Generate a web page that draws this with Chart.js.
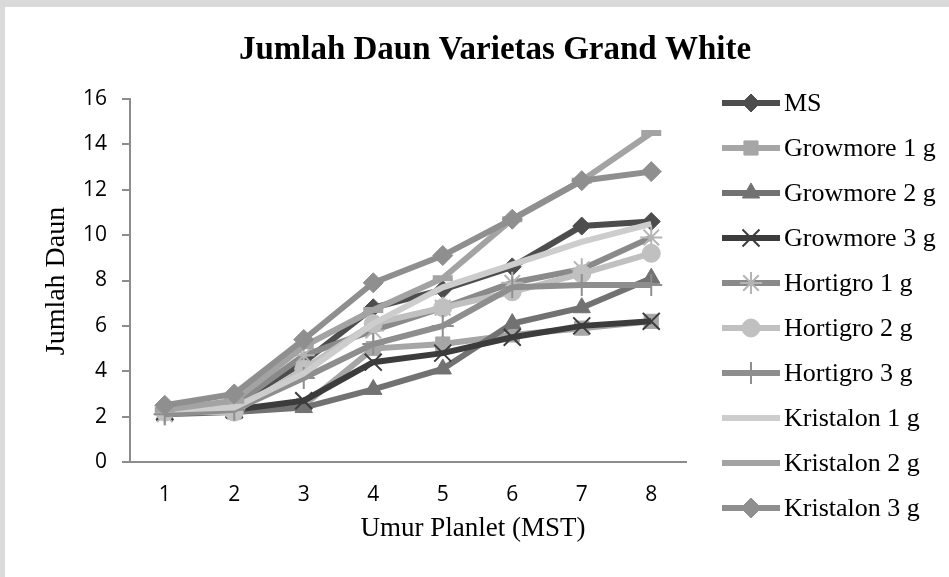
<!DOCTYPE html>
<html>
<head>
<meta charset="utf-8">
<script src="https://cdn.jsdelivr.net/npm/chart.js@4.4.1/dist/chart.umd.min.js"></script>
<style>
    html, body { margin: 0; padding: 0; background: #fff; }
    #wrap { position: relative; width: 949px; height: 577px; }
</style>
</head>
<body>
<div id="wrap"><canvas id="leafChart" width="949" height="577"></canvas></div>
<script>
// Week labels (x axis) and y ticks
const weeks = ['1', '2', '3', '4', '5', '6', '7', '8'];
const yTicks = [0, 2, 4, 6, 8, 10, 12, 14, 16];

// Leaf counts per treatment
const ms          = [2.3, 2.5, 4.4, 6.8, 7.6, 8.6, 10.4, 10.6];
const growmore1   = [2.2, 2.2, 2.5, 5.0, 5.2, 5.6, 5.9, 6.2];
const growmore2   = [2.1, 2.2, 2.4, 3.2, 4.1, 6.1, 6.8, 8.1];
const growmore3   = [2.2, 2.3, 2.7, 4.4, 4.8, 5.5, 6.0, 6.2];
const hortigro1   = [2.1, 2.5, 4.7, 5.8, 6.8, 7.9, 8.5, 9.9];
const hortigro2   = [2.2, 2.2, 4.1, 6.1, 6.8, 7.5, 8.3, 9.2];
const hortigro3   = [2.1, 2.3, 3.7, 5.2, 6.0, 7.7, 7.8, 7.8];
const kristalon1  = [2.3, 2.4, 3.9, 6.1, 7.7, 8.7, 9.7, 10.5];
const kristalon2  = [2.3, 2.7, 5.1, 6.7, 8.1, 10.7, 12.4, 14.5];
const kristalon3  = [2.5, 3.0, 5.4, 7.9, 9.1, 10.7, 12.4, 12.8];

const labels = ['MS', 'Growmore 1 g', 'Growmore 2 g', 'Growmore 3 g', 'Hortigro 1 g',
    'Hortigro 2 g', 'Hortigro 3 g', 'Kristalon 1 g', 'Kristalon 2 g', 'Kristalon 3 g'];
const values = [ms, growmore1, growmore2, growmore3, hortigro1,
    hortigro2, hortigro3, kristalon1, kristalon2, kristalon3];

// line colour, marker style, marker radius, marker fill, marker stroke, marker stroke width
const looks = [
    ['#4d4d4d', 'rectRot',  9, '#4d4d4d', '#4d4d4d', 1],
    ['#a6a6a6', 'rect',    10, '#a6a6a6', '#a6a6a6', 1],
    ['#727272', 'triangle',10, '#727272', '#727272', 1],
    ['#3c3c3c', 'crossRot',12, '#3c3c3c', '#3c3c3c', 2],
    ['#8a8a8a', 'star',    11, '#b4b4b4', '#b4b4b4', 2],
    ['#c0c0c0', 'circle',   9, '#c0c0c0', '#c0c0c0', 1],
    ['#8e8e8e', 'cross',   11, '#8e8e8e', '#8e8e8e', 2],
    ['#cdcdcd', false,      0, '#cdcdcd', '#cdcdcd', 0],
    ['#a3a3a3', 'line',    10, '#a3a3a3', '#a3a3a3', 6],
    ['#8f8f8f', 'rectRot', 10, '#8f8f8f', '#8f8f8f', 1]
];

const datasets = labels.map((name, i) => {
    const [col, style, r, fill, stroke, bw] = looks[i];
    return {
        label: name,
        data: values[i],
        borderColor: col,
        backgroundColor: col,
        borderWidth: 6,
        tension: 0,
        pointStyle: style,
        pointRadius: r,
        pointHoverRadius: r,
        pointBackgroundColor: fill,
        pointBorderColor: stroke,
        pointBorderWidth: bw,
        order: labels.length - 1 - i
    };
});

// grey scan border, titles and the legend on the right
const paper = {
    id: 'paper',
    beforeDraw(chart) {
        const ctx = chart.ctx;
        ctx.save();
        ctx.fillStyle = '#fff';
        ctx.fillRect(0, 0, chart.width, chart.height);
        ctx.fillStyle = '#dadada';
        ctx.fillRect(0, 0, chart.width, 7);
        ctx.fillRect(0, 0, 5, chart.height);
        ctx.restore();
    },
    afterDraw(chart) {
        const ctx = chart.ctx;
        ctx.save();
        ctx.fillStyle = '#000';
        ctx.textAlign = 'center';
        ctx.textBaseline = 'middle';
        ctx.font = 'bold 33px "Liberation Serif"';
        ctx.fillText('Jumlah Daun Varietas Grand White', 495, 50);

        ctx.font = '27px "Liberation Serif"';
        ctx.fillText('Umur Planlet (MST)', 473, 529);

        ctx.save();
        ctx.translate(57, 281);
        ctx.rotate(-Math.PI / 2);
        ctx.font = '28px "Liberation Serif"';
        ctx.fillText('Jumlah Daun', 0, 0);
        ctx.restore();

        chart.data.datasets.forEach((ds, i) => {
            const y = 103 + i * 45;
            ctx.strokeStyle = ds.borderColor;
            ctx.lineWidth = ds.borderWidth;
            ctx.beginPath();
            ctx.moveTo(722, y);
            ctx.lineTo(780, y);
            ctx.stroke();
            if (ds.pointStyle) {
                ctx.fillStyle = ds.pointBackgroundColor;
                ctx.strokeStyle = ds.pointBorderColor;
                ctx.lineWidth = ds.pointBorderWidth;
                Chart.helpers.drawPoint(ctx, {
                    pointStyle: ds.pointStyle,
                    radius: ds.pointRadius,
                    borderWidth: ds.pointBorderWidth,
                    rotation: 0
                }, 751, y);
            }
            ctx.fillStyle = '#000';
            ctx.textAlign = 'left';
            ctx.font = '26px "Liberation Serif"';
            ctx.fillText(ds.label, 784, y + 1);
        });
        ctx.restore();
    }
};

new Chart(document.getElementById('leafChart'), {
    type: 'line',
    data: { labels: weeks, datasets: datasets },
    plugins: [paper],
    options: {
        responsive: false,
        animation: false,
        layout: { padding: { top: 99, right: 263, bottom: 0, left: 0 } },
        plugins: {
            legend: { display: false },
            title: { display: false },
            tooltip: { enabled: false }
        },
        scales: {
            x: {
                offset: true,
                grid: { display: false },
                border: { display: true, color: '#8c8c8c', width: 2 },
                ticks: { color: '#000', font: { family: 'Open Sans', size: 21 }, padding: 12 },
                afterFit(s) { s.height = 115; }
            },
            y: {
                min: 0,
                max: 16,
                afterBuildTicks(s) { s.ticks = yTicks.map(v => ({ value: v })); },
                grid: { drawOnChartArea: false, drawTicks: true, tickLength: 8, color: '#8c8c8c', lineWidth: 2 },
                border: { display: true, color: '#8c8c8c', width: 2 },
                ticks: { color: '#000', font: { family: 'Open Sans', size: 21 }, padding: 15 },
                afterFit(s) { s.width = 130; }
            }
        }
    }
});
</script>
</body>
</html>
